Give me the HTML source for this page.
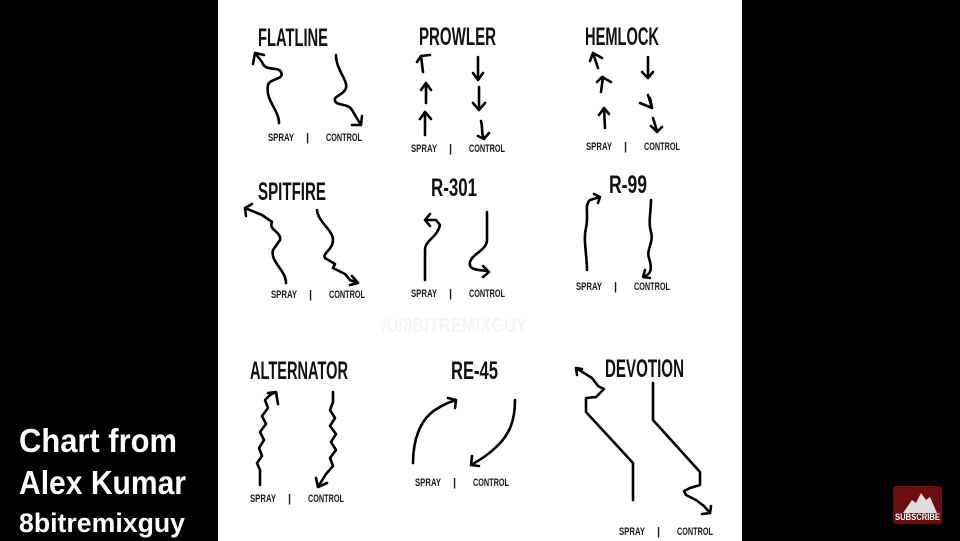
<!DOCTYPE html>
<html><head><meta charset="utf-8"><style>
html,body{margin:0;padding:0;background:#000;width:960px;height:541px;overflow:hidden}
svg{display:block}
.t{font-family:"Liberation Sans",sans-serif;font-weight:bold;fill:#111}
.l{font-family:"Liberation Sans",sans-serif;font-weight:bold;fill:#1a1a1a;font-size:11px}
.p{fill:none;stroke:#000;stroke-width:2.6;stroke-linecap:round;stroke-linejoin:round}
.w{font-family:"Liberation Sans",sans-serif;font-weight:bold;fill:#fff}
</style></head><body>
<svg width="960" height="541" viewBox="0 0 960 541" xmlns="http://www.w3.org/2000/svg">
<rect x="0" y="0" width="960" height="541" fill="#000"/>
<rect x="218" y="0" width="524" height="541" fill="#fff"/>

<g class="t" font-size="25">
<text x="258" y="46" textLength="70" lengthAdjust="spacingAndGlyphs">FLATLINE</text>
<text x="419" y="45" textLength="77" lengthAdjust="spacingAndGlyphs">PROWLER</text>
<text x="585" y="45" textLength="74" lengthAdjust="spacingAndGlyphs">HEMLOCK</text>
<text x="258" y="200" textLength="68" lengthAdjust="spacingAndGlyphs">SPITFIRE</text>
<text x="431" y="196" textLength="46" lengthAdjust="spacingAndGlyphs">R-301</text>
<text x="609" y="193" textLength="38" lengthAdjust="spacingAndGlyphs">R-99</text>
<text x="250" y="379" textLength="98" lengthAdjust="spacingAndGlyphs">ALTERNATOR</text>
<text x="451" y="379" textLength="47" lengthAdjust="spacingAndGlyphs">RE-45</text>
<text x="605" y="377" textLength="79" lengthAdjust="spacingAndGlyphs">DEVOTION</text>
</g>

<g class="l">
<text x="268" y="141" textLength="26" lengthAdjust="spacingAndGlyphs">SPRAY</text><text x="306" y="141">|</text><text x="326" y="141" textLength="36" lengthAdjust="spacingAndGlyphs">CONTROL</text>
<text x="411" y="152" textLength="26" lengthAdjust="spacingAndGlyphs">SPRAY</text><text x="449" y="152">|</text><text x="469" y="152" textLength="36" lengthAdjust="spacingAndGlyphs">CONTROL</text>
<text x="586" y="150" textLength="26" lengthAdjust="spacingAndGlyphs">SPRAY</text><text x="624" y="150">|</text><text x="644" y="150" textLength="36" lengthAdjust="spacingAndGlyphs">CONTROL</text>
<text x="271" y="298" textLength="26" lengthAdjust="spacingAndGlyphs">SPRAY</text><text x="309" y="298">|</text><text x="329" y="298" textLength="36" lengthAdjust="spacingAndGlyphs">CONTROL</text>
<text x="411" y="297" textLength="26" lengthAdjust="spacingAndGlyphs">SPRAY</text><text x="449" y="297">|</text><text x="469" y="297" textLength="36" lengthAdjust="spacingAndGlyphs">CONTROL</text>
<text x="576" y="290" textLength="26" lengthAdjust="spacingAndGlyphs">SPRAY</text><text x="614" y="290">|</text><text x="634" y="290" textLength="36" lengthAdjust="spacingAndGlyphs">CONTROL</text>
<text x="250" y="502" textLength="26" lengthAdjust="spacingAndGlyphs">SPRAY</text><text x="288" y="502">|</text><text x="308" y="502" textLength="36" lengthAdjust="spacingAndGlyphs">CONTROL</text>
<text x="415" y="486" textLength="26" lengthAdjust="spacingAndGlyphs">SPRAY</text><text x="453" y="486">|</text><text x="473" y="486" textLength="36" lengthAdjust="spacingAndGlyphs">CONTROL</text>
<text x="619" y="535" textLength="26" lengthAdjust="spacingAndGlyphs">SPRAY</text><text x="657" y="535">|</text><text x="677" y="535" textLength="36" lengthAdjust="spacingAndGlyphs">CONTROL</text>
</g>

<text x="382" y="332" font-family="Liberation Sans,sans-serif" font-weight="bold" font-size="20" fill="#f5f5f5" textLength="145" lengthAdjust="spacingAndGlyphs">/U/8BITREMIXGUY</text>

<g class="p">
<path d="M279,123 C279,110 265,100 268,85 C270,78 285,80 281,72 C278,66 265,72 262,62 L255,53 M253,64 L255,53 L264,55"/>
<path d="M336,55 C336,70 348,80 346,88 C344,95 333,96 335,101 C337,106 348,103 352,110 L361,125 M352,125 L361,125 L362,116"/>
<path d="M425,135 L425,113 M420,119 L425,112 L431,119"/>
<path d="M426,103 L426,83 M421,90 L426,83 L431,90"/>
<path d="M423,72 L421,56 L430,55 M417,62 L421,56"/>
<path d="M478,57 L478,80 M473,73 L478,80 L483,73"/>
<path d="M479,87 L479,110 M473,103 L479,110 L485,103"/>
<path d="M481,121 C483,128 481,134 484,138 M478,136 L484,139 L489,133"/>
<path d="M605,128 L604,108 M599,115 L604,108 L609,114"/>
<path d="M601,92 L603,77 M597,82 L602,77 L611,82"/>
<path d="M598,68 L593,53 M590,61 L593,53 L602,58"/>
<path d="M648,57 L648,78 M642,72 L648,78 L653,72"/>
<path d="M648,95 L652,108 M640,103 L652,108 L650,98"/>
<path d="M653,118 L657,131 M651,126 L657,132 L662,127"/>
<path d="M286,283 C286,270 270,262 273,250 L280,240 C282,232 268,230 272,222 L262,215 L245,208 M246,216 L245,208 L252,204"/>
<path d="M317,210 C318,222 333,230 333,240 C333,250 322,253 325,258 L335,264 L333,268 L345,274 L350,280 L358,283 M352,276 L358,283 L350,285"/>
<path d="M425,280 L425,250 C425,240 437,238 440,225 L436,220 L425,220 M430,214 L425,220 L430,226"/>
<path d="M487,212 L487,240 C487,250 472,254 470,262 C468,270 478,270 488,271 M483,266 L489,272 L483,277"/>
<path d="M587,270 C587,255 583,240 586,228 C589,215 584,205 590,200 L600,197 M594,194 L600,197 L598,203"/>
<path d="M651,200 C651,212 648,222 651,232 C654,242 646,250 649,258 C652,268 652,274 643,277 M645,270 L643,277 L650,278"/>
<path d="M260,485 L260,470 L257,463 L262,456 L259,448 L264,440 L260,432 L266,424 L262,416 L268,408 L265,400 L270,395 L276,392 M268,393 L276,392 L278,404"/>
<path d="M333,392 L333,402 L330,410 L335,418 L330,426 L336,434 L331,442 L336,450 L330,458 L333,466 L326,474 L318,487 M316,478 L318,487 L327,483"/>
<path d="M413,463 C413,440 420,420 435,410 C444,404 450,402 456,400 M448,398 L456,400 L455,408"/>
<path d="M515,400 C515,420 510,435 495,448 C488,455 480,460 471,465 M472,456 L471,465 L479,466"/>
<path d="M633,500 L633,463 L586,412 L586,398 L596,397 L600,393 L604,389 L598,386 L592,378 L576,368 M577,375 L576,368 L582,369"/>
<path d="M653,383 L653,420 L700,472 L700,485 L690,488 L684,491 L686,495 L696,500 L704,506 L710,513 M702,514 L710,513 L711,506"/>
</g>

<text class="w" x="19" y="452" font-size="33" textLength="158" lengthAdjust="spacingAndGlyphs">Chart from</text>
<text class="w" x="19" y="494" font-size="33" textLength="167" lengthAdjust="spacingAndGlyphs">Alex Kumar</text>
<text class="w" x="19" y="532" font-size="27" textLength="166" lengthAdjust="spacingAndGlyphs">8bitremixguy</text>

<rect x="893" y="486" width="49" height="38" rx="3" fill="#6e0d0d"/>
<path d="M903,513 L912,500 L916,503 L921,493 L926,500 L930,497 L937,513 Z" fill="#ddd"/>
<text x="895" y="520" font-family="Liberation Sans,sans-serif" font-weight="bold" font-size="9" fill="#fff" textLength="45" lengthAdjust="spacingAndGlyphs">SUBSCRIBE</text>
</svg>
</body></html>
